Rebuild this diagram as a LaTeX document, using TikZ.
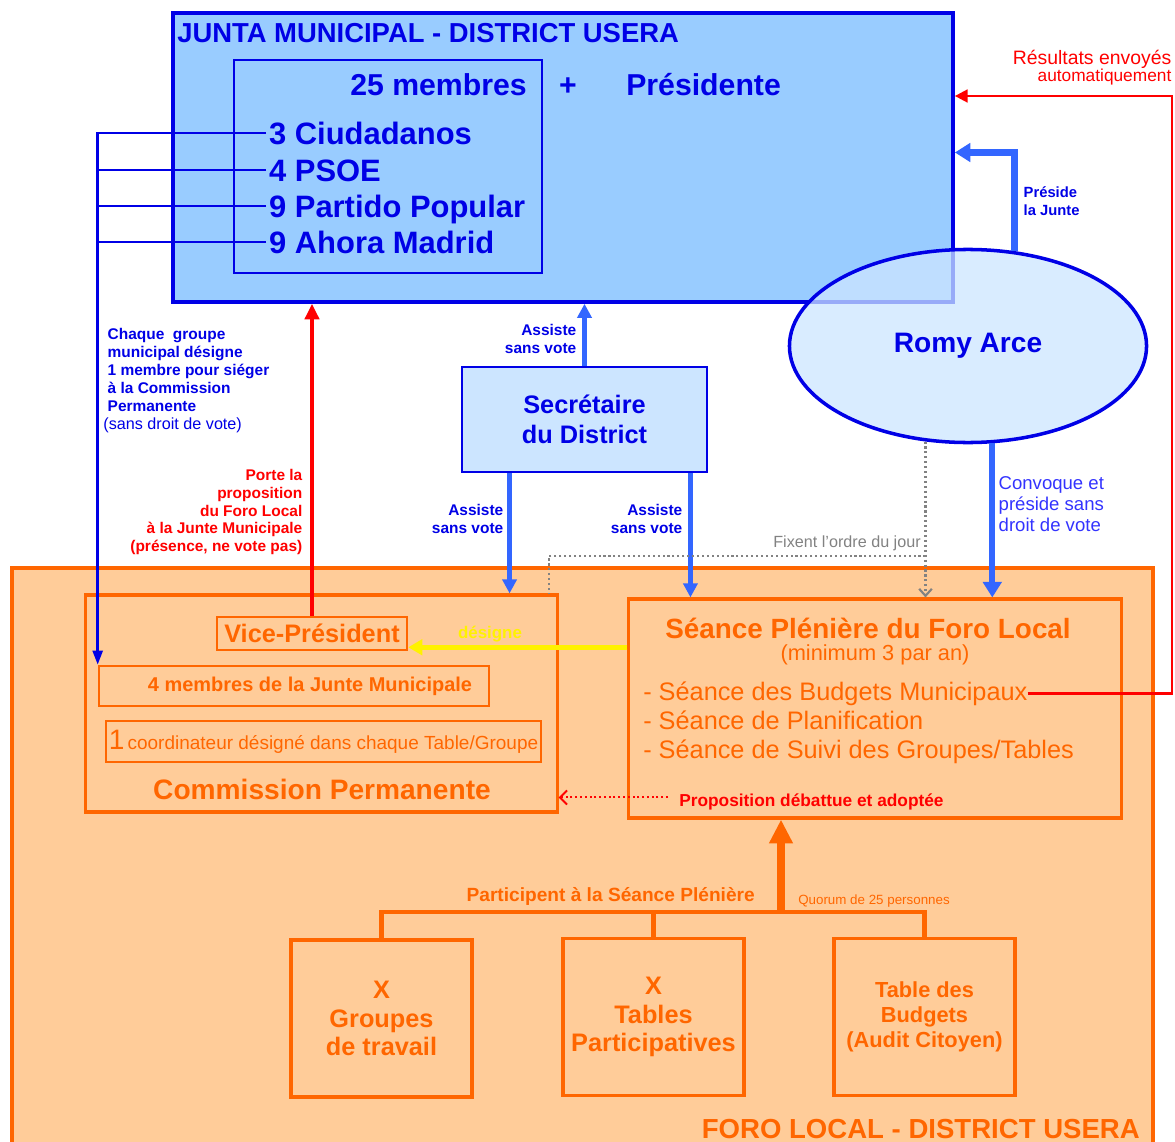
\documentclass[tikz,border=0pt]{standalone}
\usepackage{fontspec}
\setmainfont{Liberation Sans}
\usepackage{tikz}
\usetikzlibrary{arrows.meta}
\usetikzlibrary{shapes.geometric}
\usetikzlibrary{calc}

\definecolor{jblue}{RGB}{0,0,230}
\definecolor{ablue}{RGB}{51,102,255}
\definecolor{cblue}{RGB}{51,51,255}
\definecolor{jfill}{RGB}{153,204,255}
\definecolor{sfill}{RGB}{204,229,255}
\definecolor{forange}{RGB}{255,102,0}
\definecolor{ffill}{RGB}{255,204,153}
\definecolor{lgray}{RGB}{130,130,130}

\newcommand{\fsize}[2]{\fontsize{#1}{#2}\selectfont}

\tikzset{
	jbox/.style = {draw = jblue, inner sep = 0pt},
	obox/.style = {draw = forange, line width = 2.2pt, inner sep = 0pt},
	party/.style = {anchor = west, text = jblue, inner sep = 2pt, text height = 15.8pt, text depth = 0pt, font = \fsize{22}{26}\bfseries},
	bluearrow/.style = {draw = ablue, line width = 3.5pt, -{Triangle[length = 10pt, width = 10pt]}},
	bluelabel/.style = {text = jblue, inner sep = 1pt, font = \fsize{11}{12.5}\bfseries},
	orangetext/.style = {text = forange, inner sep = 0pt},
	dotline/.style = {draw = lgray, line width = 1.5pt, dotted}
}

\begin{document}
\begin{tikzpicture}[x = {(0.025cm,0)}, y = {(0,-0.025cm)}]
	\useasboundingbox (0,0) rectangle (1175,1142);

	\node[obox, fill = ffill, line width = 2.5pt, minimum width = 28.525cm, minimum height = 14.8cm] (foro) at (582.5,864) {};

	\node[jbox, fill = jfill, line width = 2.5pt, minimum width = 19.5cm, minimum height = 7.225cm] (junta) at (563,157.5) {};
	\node[jbox, line width = 1.8pt, minimum width = 7.7cm, minimum height = 5.325cm] (jinner) at (388,166.5) {};

	\node[anchor = base west, text = jblue, inner sep = 0pt, font = \fsize{19.5}{22}\bfseries] (jtitle) at (177,43) {JUNTA MUNICIPAL - DISTRICT USERA};
	\node[anchor = base east, text = jblue, inner sep = 0pt, font = \fsize{21.5}{24}\bfseries] (membres) at (527,96) {25 membres};
	\node[anchor = base, text = jblue, inner sep = 0pt, font = \fsize{21.5}{24}\bfseries] (plus) at (568,96) {+};
	\node[anchor = base west, text = jblue, inner sep = 0pt, font = \fsize{21.5}{24}\bfseries] (presidente) at (626,96) {Présidente};

	\node[party] (cd) at (266,133) {3 Ciudadanos};
	\node[party] (psoe) at (266,170) {4 PSOE};
	\node[party] (pp) at (266,206) {9 Partido Popular};
	\node[party] (am) at (266,242) {9 Ahora Madrid};

	\node[obox, minimum width = 11.775cm, minimum height = 5.425cm] (comm) at (321.5,703.5) {};
	\node[obox, line width = 1.8pt, minimum width = 4.75cm, minimum height = 0.825cm, text = forange, font = \fsize{18}{20}\bfseries] (vice) at (312,633.5) {Vice-Président};
	\node[obox, line width = 1.8pt, minimum width = 9.75cm, minimum height = 1cm, text = forange, font = \fsize{14.2}{16}\bfseries] (quatre) at (294,686) {\hspace*{0.8cm}4 membres de la Junte Municipale};
	\node[obox, line width = 1.8pt, minimum width = 10.875cm, minimum height = 1.025cm, text = forange, font = \fsize{13.5}{16}] (coord) at (323.5,741.5) {{\fsize{20}{20}1}\,coordinateur désigné dans chaque Table/Groupe};
	\node[orangetext, font = \fsize{20}{22}\bfseries] (commtitle) at (322,789) {Commission Permanente};

	\node[obox, minimum width = 12.3cm, minimum height = 5.475cm] (seance) at (875,708.5) {};
	\node[orangetext, font = \fsize{19.8}{22}\bfseries] (stitle) at (868,628) {Séance Plénière du Foro Local};
	\node[orangetext, font = \fsize{15.5}{17}] (smin) at (875,655) {(minimum 3 par an)};
	\node[orangetext, anchor = base west, font = \fsize{18}{20}] (sbudg) at (643,700) {- Séance des Budgets Municipaux};
	\node[orangetext, anchor = base west, font = \fsize{18}{20}] (splan) at (643,729) {- Séance de Planification};
	\node[orangetext, anchor = base west, font = \fsize{18}{20}] (ssuivi) at (643,758) {- Séance de Suivi des Groupes/Tables};
	\node[anchor = base west, text = red, inner sep = 0pt, font = \fsize{12.3}{14}\bfseries] (prop) at (679,806) {Proposition débattue et adoptée};

	\node[obox, minimum width = 4.525cm, minimum height = 3.925cm, align = center, text = forange, font = \fsize{18}{20.5}\bfseries] (groupes) at (381.5,1018.5) {X\\Groupes\\de travail};
	\node[obox, minimum width = 4.525cm, minimum height = 3.925cm, align = center, text = forange, font = \fsize{18}{20.5}\bfseries] (tables) at (653.5,1017) {X\\Tables\\Participatives};
	\node[obox, minimum width = 4.525cm, minimum height = 3.925cm, align = center, text = forange, font = \fsize{15.5}{18}\bfseries] (budgets) at (924.5,1017) {Table des\\Budgets\\(Audit Citoyen)};

	\node[orangetext, anchor = base east, font = \fsize{13.6}{15}\bfseries] (lpart) at (755,901) {Participent à la Séance Plénière};
	\node[orangetext, anchor = base west, font = \fsize{9.5}{11}] (lquorum) at (798,904) {Quorum de 25 personnes};
	\node[orangetext, anchor = base east, font = \fsize{19.6}{22}\bfseries] (forotitle) at (1140,1138) {FORO LOCAL - DISTRICT USERA};

	\node[jbox, fill = sfill, line width = 2pt, minimum width = 6.125cm, minimum height = 2.625cm, align = center, text = jblue, font = \fsize{18}{21}\bfseries] (secr) at (584.5,419.5) {Secrétaire\\du District};

	\node[ellipse, draw = jblue, line width = 2.5pt, fill = sfill, fill opacity = 0.75, text opacity = 1, inner sep = 0pt, minimum width = 8.925cm, minimum height = 4.825cm, text = jblue, font = \fsize{20}{22}\bfseries] (romy) at (968,346) {Romy Arce};

	\coordinate (rr) at (1172,96);
	\coordinate (hub) at (781,912);
	\coordinate (fx) at (549,556);
	\coordinate (sl) at ($(secr.south west)+(49,0)$);
	\coordinate (sr) at ($(secr.south east)+(-18,0)$);
	\coordinate (jp) at ($(junta.east)+(0,-5)$);
	\coordinate (vy) at ($(vice.south east)+(0,-4)$);
	\coordinate (pd) at ($(prop.west)+(-11,-4)$);

	\draw[jblue, line width = 2pt] (psoe.west) -- (psoe.west -| quatre.west);
	\draw[jblue, line width = 2pt] (pp.west) -- (pp.west -| quatre.west);
	\draw[jblue, line width = 2pt] (am.west) -- (am.west -| quatre.west);
	\draw[jblue, line width = 2pt, -{Triangle[length = 10pt, width = 7pt]}] (cd.west) -| (quatre.north west);

	\draw[bluearrow] (secr.north) -- (secr.north |- junta.south);
	\draw[bluearrow] (sl) -- (sl |- comm.north);
	\draw[bluearrow] (sr) -- (sr |- seance.north);
	\draw[bluearrow, line width = 4.5pt, -{Triangle[length = 11pt, width = 13pt]}] (romy.284) -- (romy.284 |- seance.north);
	\draw[bluearrow, line width = 4.5pt, -{Triangle[length = 11pt, width = 13pt]}] (romy.64) |- (jp);

	\draw[dotline, -{Straight Barb[length = 5pt, width = 9pt]}] (romy.246) -- (romy.246 |- seance.north);
	\draw[dotline] (romy.246 |- fx) -- (fx) -- (fx |- comm.north);

	\draw[red, line width = 1.8pt, -{Triangle[length = 9pt, width = 9pt]}] (sbudg.east) -| (rr) -- (rr -| junta.east);
	\draw[red, line width = 3.5pt, -{Triangle[length = 11pt, width = 10pt]}] (vice.north) -- (vice.north |- junta.south);
	\draw[red, line width = 1.4pt, dotted, -{Straight Barb[length = 5pt, width = 10pt]}] (pd) -- (pd -| comm.east);
	\draw[yellow, line width = 3.5pt, -{Triangle[length = 10pt, width = 11pt]}] (vy -| seance.west) -- (vy);

	\draw[forange, line width = 3pt] (groupes.north) |- (hub) -| (budgets.north);
	\draw[forange, line width = 3pt] (tables.north) -- (tables.north |- hub);
	\draw[forange, line width = 5.5pt, -{Triangle[length = 17pt, width = 16pt]}] (hub) -- (hub |- seance.south);

	\node[bluelabel, anchor = east, align = right] (lassiste) at (578,339) {Assiste\\sans vote};
	\node[bluelabel, anchor = east, align = right] (lassistec) at (505,519) {Assiste\\sans vote};
	\node[bluelabel, anchor = east, align = right] (lassistes) at (684,519) {Assiste\\sans vote};
	\node[bluelabel, anchor = west, align = left, font = \fsize{10.5}{12.5}\bfseries] (lpreside) at (1022,201) {Préside\\la Junte};
	\node[anchor = east, align = right, text = red, inner sep = 1pt, font = \fsize{13.8}{12}] (lresult) at (1173,68) {Résultats envoyés\\{\fsize{12.3}{12}automatiquement}};
	\node[anchor = west, align = left, text = cblue, inner sep = 1pt, font = \fsize{13.2}{15.2}] (lconvoque) at (997,504) {Convoque et\\préside sans\\droit de vote};
	\node[bluelabel, anchor = north west, align = left, font = \fsize{11}{12.7}\bfseries] (lchaque) at (106,327) {Chaque~~groupe\\municipal désigne\\1 membre pour siéger\\à la Commission\\Permanente\\{\mdseries\fsize{11.5}{12.7}\hspace*{-3pt}(sans droit de vote)}};
	\node[anchor = east, align = right, text = red, inner sep = 1pt, font = \fsize{11}{12.7}\bfseries] (lporte) at (304,512) {Porte la\\proposition\\du Foro Local\\à la Junte Municipale\\(présence, ne vote pas)};
	\node[anchor = base east, text = lgray, inner sep = 0pt, font = \fsize{11.5}{13}] (lfixent) at (921,547) {Fixent l’ordre du jour};
	\node[anchor = base, text = yellow, inner sep = 0pt, font = \fsize{12}{14}\bfseries] (ldesigne) at (490,638) {désigne};
\end{tikzpicture}
\end{document}
